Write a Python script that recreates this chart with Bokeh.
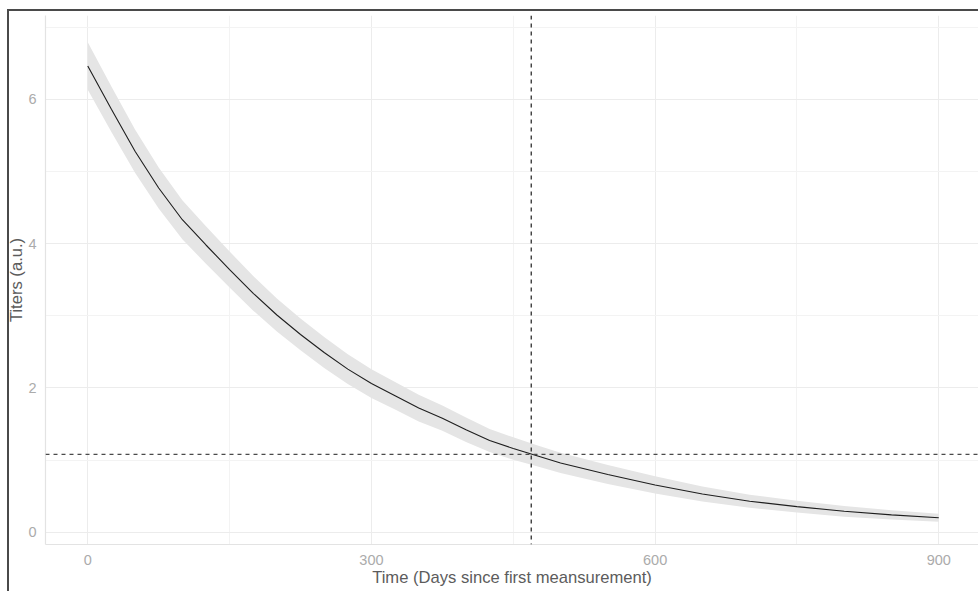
from bokeh.plotting import figure
from bokeh.models import FixedTicker, Span, Range1d, ColumnDataSource, Title
from bokeh.embed import file_html
from bokeh.resources import INLINE

# Data
days = [0, 25, 50, 75, 100, 125, 150, 175, 200, 225, 250, 275, 300, 325, 350,
        375, 400, 425, 450, 475, 500, 550, 600, 650, 700, 750, 800, 850, 900]
titer = [6.46, 5.86, 5.28, 4.77, 4.33, 3.98, 3.64, 3.31, 3.01, 2.74, 2.49, 2.26,
         2.06, 1.89, 1.72, 1.58, 1.42, 1.27, 1.16, 1.06, 0.96, 0.80, 0.655, 0.53,
         0.43, 0.355, 0.29, 0.24, 0.20]
upper = [6.79, 6.175, 5.58, 5.055, 4.60, 4.24, 3.89, 3.55, 3.24, 2.96, 2.705, 2.465,
         2.26, 2.08, 1.905, 1.755, 1.59, 1.43, 1.315, 1.205, 1.10, 0.93, 0.775, 0.635,
         0.52, 0.437, 0.365, 0.305, 0.255]
lower = [6.13, 5.545, 4.98, 4.485, 4.06, 3.72, 3.39, 3.07, 2.78, 2.52, 2.275, 2.055,
         1.86, 1.70, 1.535, 1.405, 1.25, 1.11, 1.005, 0.915, 0.82, 0.67, 0.535, 0.425,
         0.34, 0.273, 0.215, 0.175, 0.145]
threshold_day = 469
threshold_titer = 1.08

x_ticks = [0, 300, 600, 900]
x_minor = [150, 450, 750]
y_ticks = [0, 2, 4, 6]
y_minor = [1, 3, 5, 7]

src = ColumnDataSource(dict(days=days, titer=titer, upper=upper, lower=lower))

p = figure(width=975, height=582, output_backend="svg", toolbar_location=None,
           x_range=Range1d(-44.7, 942), y_range=Range1d(-0.17, 7.16),
           min_border_left=42, min_border_right=0, min_border_top=6,
           min_border_bottom=47, margin=(9, 0, 0, 3))
p.outline_line_color = None
p.background_fill_color = "white"
p.border_fill_alpha = 0
p.styles = {
    "background": "linear-gradient(#4a4a4a, #4a4a4a) 4px 0 / 100% 2px no-repeat, "
                  "linear-gradient(#4a4a4a, #4a4a4a) 4px 0 / 2px 100% no-repeat",
}

p.varea(x="days", y1="lower", y2="upper", source=src, fill_color="#e5e5e5")
p.line(x="days", y="titer", source=src, line_color="#1e1e1e", line_width=1.1)

p.add_layout(Span(location=threshold_day, dimension="height", line_color="#2e2e2e",
                  line_width=1.3, line_dash="4 4"))
p.add_layout(Span(location=threshold_titer, dimension="width", line_color="#4a4a4a",
                  line_width=1.3, line_dash="4 4"))

p.xaxis.ticker = FixedTicker(ticks=x_ticks, minor_ticks=x_minor)
p.yaxis.ticker = FixedTicker(ticks=y_ticks, minor_ticks=y_minor)

for ax in (p.xaxis[0], p.yaxis[0]):
    ax.axis_line_color = "#e3e3e3"
    ax.axis_line_width = 1.2
    ax.major_tick_line_color = None
    ax.minor_tick_line_color = None
    ax.major_tick_out = 0
    ax.minor_tick_out = 0
    ax.major_label_text_font = "Liberation Sans"
    ax.major_label_text_font_size = "14.5px"
    ax.major_label_text_color = "#ababab"

p.xaxis.axis_label = "Time (Days since first meansurement)"
p.xaxis.axis_label_text_font = "Liberation Sans"
p.xaxis.axis_label_text_font_size = "16.6px"
p.xaxis.axis_label_text_font_style = "normal"
p.xaxis.axis_label_text_color = "#5c5c5c"
p.xaxis.major_label_standoff = 10
p.xaxis.axis_label_standoff = 0
p.yaxis.major_label_standoff = 9

# y-axis title as a left-side title
p.add_layout(Title(text="Titers (a.u.)", align="center", standoff=0, offset=0,
                   text_font="Liberation Sans", text_font_size="16.6px",
                   text_font_style="normal", text_color="#5c5c5c",
                   text_line_height=0.9), "left")

p.xgrid.grid_line_color = "#ececec"
p.ygrid.grid_line_color = "#ececec"
p.xgrid.minor_grid_line_color = "#f3f3f3"
p.ygrid.minor_grid_line_color = "#f3f3f3"

open("out.html", "w").write(file_html(p, INLINE))
